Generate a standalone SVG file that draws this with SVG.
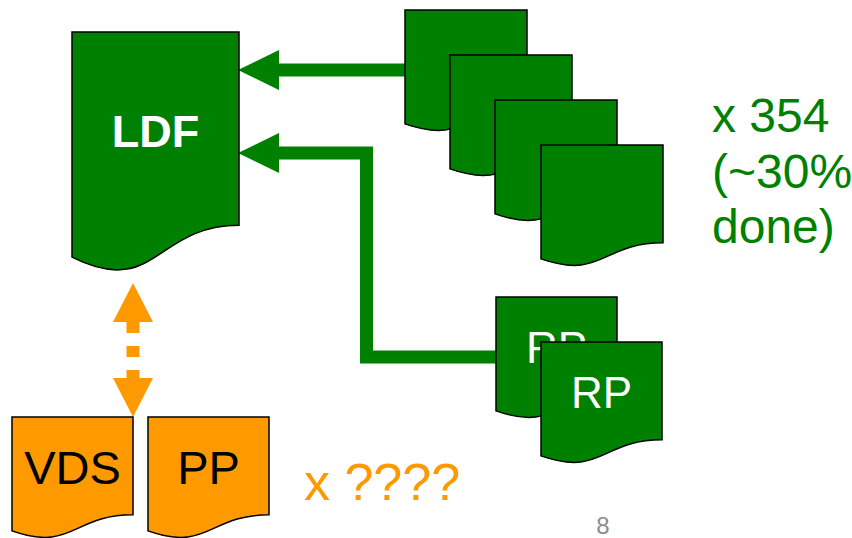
<svg xmlns="http://www.w3.org/2000/svg" width="852" height="538" viewBox="0 0 852 538">
  <style>
    .gdoc { fill: #008000; stroke: #000000; stroke-width: 1.5; }
    .odoc { fill: #FF9900; stroke: #000000; stroke-width: 1.5; }
    .t { font-family: "Liberation Sans", Arial, sans-serif; text-anchor: middle; }
    .wt { fill: #ffffff; font-size: 44px; }
    .bt { fill: #000000; font-size: 47px; }
    .gline { fill: none; stroke: #008000; stroke-width: 13; stroke-linejoin: miter; }
    .oline { fill: none; stroke: #FF9900; stroke-width: 13; stroke-dasharray: 11 13; }
  </style>
  <defs>
    <marker id="ga" viewBox="0 0 41 40" refX="0" refY="20" markerWidth="41" markerHeight="40" markerUnits="userSpaceOnUse" orient="auto">
      <path d="M0,0 L41,20 L0,40 Z" fill="#008000"/>
    </marker>
    <marker id="oa" viewBox="0 0 39 40" refX="0" refY="20" markerWidth="39" markerHeight="40" markerUnits="userSpaceOnUse" orient="auto-start-reverse">
      <path d="M0,0 L39,20 L0,40 Z" fill="#FF9900"/>
    </marker>
  </defs>

  <g id="connectors">
    <path class="gline" d="M405,70 H279" marker-end="url(#ga)"/>
    <path class="gline" d="M497,357 H366.5 V153 H279" marker-end="url(#ga)"/>
    <path class="oline" d="M133,322 V378" marker-start="url(#oa)" marker-end="url(#oa)"/>
  </g>

  <g id="ldf">
    <path class="gdoc" d="M72,32 H239 V225.3 C155.5,225.3 155.5,298.9 72,257.1 Z"/>
    <text class="t" x="155.5" y="147" fill="#ffffff" font-size="45" font-weight="bold">LDF</text>
  </g>

  <g id="doc1"><path class="gdoc" d="M405,10 H527 V107.8 C466,107.8 466,145.1 405,123.9 Z"/></g>
  <g id="doc2"><path class="gdoc" d="M450,55 H572 V152.8 C511,152.8 511,190.1 450,168.9 Z"/></g>
  <g id="doc3"><path class="gdoc" d="M495,100 H617 V197.8 C556,197.8 556,235.1 495,213.9 Z"/></g>
  <g id="doc4"><path class="gdoc" d="M541,145 H663 V242.8 C602,242.8 602,280.1 541,258.9 Z"/></g>

  <g id="rp1">
    <path class="gdoc" d="M496,297 H617 V394.8 C556.5,394.8 556.5,432.1 496,410.9 Z"/>
    <text class="t wt" x="556.5" y="363">RP</text>
  </g>
  <g id="rp2">
    <path class="gdoc" d="M541,342 H662 V439.8 C601.5,439.8 601.5,477.1 541,455.9 Z"/>
    <text class="t wt" x="601.5" y="408">RP</text>
  </g>

  <g id="vds">
    <path class="odoc" d="M12,417 H133 V514.8 C72.5,514.8 72.5,552.1 12,530.9 Z"/>
    <text class="t bt" x="72.5" y="484">VDS</text>
  </g>
  <g id="pp">
    <path class="odoc" d="M148,417 H269 V514.8 C208.5,514.8 208.5,552.1 148,530.9 Z"/>
    <text class="t bt" x="208.5" y="484">PP</text>
  </g>

  <g id="count-green" font-family="Liberation Sans, Arial, sans-serif" font-size="48" fill="#008000">
    <text x="712" y="132">x 354</text>
    <text x="712" y="188">(~30%</text>
    <text x="712" y="243">done)</text>
  </g>
  <text id="count-orange" x="304" y="500" font-family="Liberation Sans, Arial, sans-serif" font-size="52" fill="#FF9900">x ????</text>
  <text id="page" x="603" y="534" font-family="Liberation Sans, Arial, sans-serif" font-size="24" fill="#8c8c8c" text-anchor="middle">8</text>
</svg>
